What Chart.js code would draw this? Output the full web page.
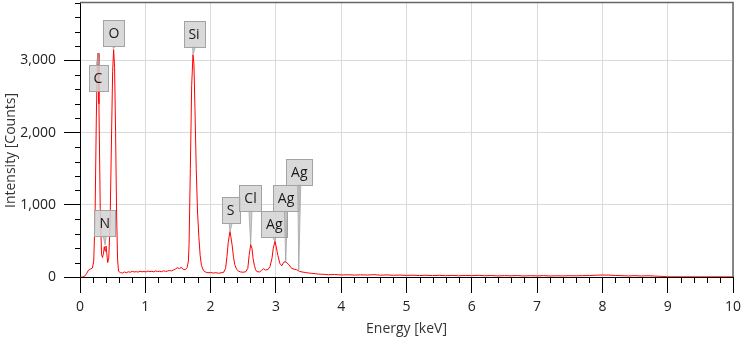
<!DOCTYPE html>
<html>
<head>
<meta charset="utf-8">
<script src="https://cdn.jsdelivr.net/npm/chart.js@4.4.1/dist/chart.umd.min.js"></script>
<style>
  html, body { margin: 0; padding: 0; background: #fff; }
  #wrap { width: 744px; height: 338px; }
</style>
</head>
<body>
<div id="wrap"><canvas id="spectrumCanvas" width="744" height="338"></canvas></div>
<script>
// spectrum (keV, counts)
const energies = [
  0.00, 0.04, 0.07, 0.10, 0.13, 0.16, 0.19, 0.21, 0.23, 0.25, 0.265, 0.277, 0.29, 0.31, 0.33,
  0.345, 0.36, 0.372, 0.385, 0.398, 0.41, 0.424, 0.44, 0.46, 0.48, 0.50, 0.515, 0.53, 0.545, 0.56,
  0.575, 0.59, 0.62, 0.65, 0.68, 0.71, 0.74, 0.77, 0.80, 0.83, 0.86, 0.89, 0.92, 0.95, 0.98,
  1.01, 1.04, 1.07, 1.10, 1.13, 1.16, 1.19, 1.22, 1.25, 1.28, 1.31, 1.34, 1.37, 1.40, 1.43,
  1.46, 1.49, 1.52, 1.55, 1.58, 1.61, 1.64, 1.66, 1.67, 1.69, 1.71, 1.73, 1.745, 1.76, 1.78,
  1.80, 1.82, 1.84, 1.86, 1.89, 1.92, 1.96, 2.00, 2.04, 2.08, 2.12, 2.16, 2.20, 2.23, 2.25,
  2.27, 2.297, 2.31, 2.33, 2.35, 2.37, 2.40, 2.43, 2.46, 2.50, 2.54, 2.57, 2.59, 2.614, 2.635,
  2.65, 2.67, 2.69, 2.71, 2.75, 2.78, 2.81, 2.84, 2.88, 2.91, 2.94, 2.96, 2.986, 3.00, 3.03,
  3.06, 3.09, 3.12, 3.145, 3.17, 3.20, 3.24, 3.28, 3.32, 3.36, 3.40, 3.45, 3.50, 3.55, 3.60,
  3.65, 3.70, 3.75, 3.80, 3.90, 4.00, 4.10, 4.20, 4.30, 4.40, 4.50, 4.60, 4.70, 4.80, 4.90,
  5.00, 5.10, 5.20, 5.30, 5.40, 5.50, 5.60, 5.70, 5.80, 5.90, 6.00, 6.10, 6.20, 6.30, 6.40,
  6.50, 6.60, 6.70, 6.80, 6.90, 7.00, 7.10, 7.20, 7.30, 7.40, 7.50, 7.60, 7.70, 7.80, 7.90,
  8.00, 8.10, 8.20, 8.30, 8.40, 8.50, 8.60, 8.70, 8.80, 8.90, 9.00, 9.50, 10.00
];
const counts = [
  0, 0, 10, 45, 95, 110, 125, 220, 800, 2200, 2950, 3100, 2400, 950, 310,
  270, 330, 420, 360, 430, 330, 200, 260, 700, 1800, 2850, 3150, 2900, 2000, 900,
  250, 80, 60, 55, 70, 60, 72, 66, 78, 70, 74, 68, 80, 72, 76,
  70, 82, 75, 79, 71, 84, 76, 80, 73, 86, 78, 82, 90, 84, 96,
  110, 128, 118, 132, 108, 100, 130, 220, 450, 1500, 2650, 3080, 2950, 2350, 1500,
  900, 560, 300, 160, 90, 70, 58, 62, 55, 60, 52, 58, 66, 120, 280,
  480, 630, 560, 440, 280, 170, 105, 80, 70, 66, 74, 120, 300, 450, 390,
  260, 160, 100, 74, 70, 90, 115, 96, 105, 145, 260, 400, 495, 440, 300,
  190, 155, 205, 215, 195, 170, 120, 108, 100, 78, 70, 62, 56, 50, 46,
  40, 38, 36, 31, 34, 28, 31, 26, 30, 27, 32, 25, 29, 24, 27,
  22, 25, 20, 24, 19, 23, 18, 22, 17, 21, 18, 23, 17, 20, 15,
  19, 16, 20, 14, 18, 15, 19, 14, 17, 15, 18, 16, 19, 20, 25,
  27, 26, 21, 18, 15, 18, 14, 17, 13, 9, 3, 2, 2
];

// identified peaks
const peakElements = ['C', 'O', 'N', 'Si', 'S', 'Cl', 'Ag', 'Ag', 'Ag'];
const peakEnergies = [0.277, 0.515, 0.385, 1.73, 2.297, 2.614, 2.986, 3.15, 3.35];
const peakCounts = [3100, 3165, 445, 3085, 630, 450, 490, 195, 95];

// tick labels and tick steps
const xTickValues = [0, 1, 2, 3, 4, 5, 6, 7, 8, 9, 10];
const yTickValues = [0, 1000, 2000, 3000];
const xMinorStep = 0.2;
const yMinorStep = 200;

const FONT = '"Open Sans", sans-serif';
const isMajor = (list, v) => list.some(t => Math.abs(t - v) < 1e-6);

function stepTicks(scale, step, max) {
  const ticks = [];
  for (let i = 0; i * step <= max + 1e-9; i++) ticks.push({ value: i * step });
  scale.ticks = ticks;
}

const frameAndTicks = {
  id: 'frameAndTicks',
  afterDraw(chart) {
    const { ctx, chartArea: a, scales: { x, y } } = chart;
    ctx.save();
    ctx.strokeStyle = '#000';
    ctx.lineWidth = 1;
    ctx.beginPath();
    x.ticks.forEach(t => {
      if (isMajor(xTickValues, t.value)) return;
      const px = Math.round(x.getPixelForValue(t.value)) + 0.5;
      ctx.moveTo(px, a.bottom);
      ctx.lineTo(px, a.bottom + 6);
    });
    y.ticks.forEach(t => {
      if (isMajor(yTickValues, t.value)) return;
      const py = Math.round(y.getPixelForValue(t.value)) + 0.5;
      ctx.moveTo(a.left - 5, py);
      ctx.lineTo(a.left, py);
    });
    ctx.stroke();
    ctx.strokeStyle = '#666';
    ctx.lineWidth = 1.5;
    ctx.beginPath();
    ctx.moveTo(a.left, a.top + 0.5);
    ctx.lineTo(a.right, a.top + 0.5);
    ctx.lineTo(a.right, a.bottom);
    ctx.stroke();

    // y axis title, sits a little below the middle of the plot
    ctx.font = '14px ' + FONT;
    ctx.fillStyle = '#333';
    ctx.textAlign = 'center';
    ctx.textBaseline = 'middle';
    ctx.translate(11, (a.top + a.bottom) / 2 + 11);
    ctx.rotate(-Math.PI / 2);
    ctx.fillText('Intensity [Counts]', 0, 0);
    ctx.restore();
  }
};

const peakLabels = {
  id: 'peakLabels',
  afterDatasetsDraw(chart, args, opts) {
    const { ctx, scales: { x, y } } = chart;
    ctx.save();
    ctx.font = '14px ' + FONT;
    ctx.textAlign = 'center';
    ctx.textBaseline = 'middle';
    peakElements.forEach((el, i) => {
      const box = opts.boxes[i];
      const cx = x.getPixelForValue(box.e);
      const cy = y.getPixelForValue(box.c);
      const w = Math.round(ctx.measureText(el).width + 10);
      const h = 26;
      const tx = x.getPixelForValue(peakEnergies[i]);
      const ty = y.getPixelForValue(peakCounts[i]);
      const baseY = ty > cy ? cy + h / 2 : cy - h / 2;
      // pointer
      ctx.fillStyle = 'rgba(190,190,190,0.7)';
      ctx.strokeStyle = '#9a9a9a';
      ctx.lineWidth = 0.7;
      ctx.beginPath();
      ctx.moveTo(cx - 1.5, baseY);
      ctx.lineTo(tx, ty);
      ctx.lineTo(cx + 1.5, baseY);
      ctx.closePath();
      ctx.fill();
      ctx.stroke();
      // box
      ctx.fillStyle = 'rgba(210,210,210,0.85)';
      ctx.strokeStyle = '#a3a3a3';
      ctx.lineWidth = 1;
      const bx = Math.round(cx - w / 2) + 0.5;
      const by = Math.round(cy - h / 2) + 0.5;
      ctx.fillRect(bx, by, w, h);
      ctx.strokeRect(bx, by, w, h);
      ctx.fillStyle = '#1a1a1a';
      ctx.fillText(el, cx, cy + 1);
    });
    ctx.restore();
  }
};

new Chart(document.getElementById('spectrumCanvas'), {
  type: 'line',
  data: {
    datasets: [{
      data: energies.map((e, i) => ({ x: e, y: counts[i] })),
      borderColor: '#ff0000',
      borderWidth: 1,
      pointRadius: 0,
      tension: 0,
      fill: false
    }]
  },
  options: {
    responsive: false,
    animation: false,
    devicePixelRatio: 1,
    layout: { padding: { top: 2, right: 11, left: 0, bottom: 0 } },
    plugins: {
      legend: { display: false },
      tooltip: { enabled: false },
      peakLabels: {
        boxes: [
          { e: 0.276, c: 2763 }, { e: 0.52, c: 3374 }, { e: 0.378, c: 749 },
          { e: 1.746, c: 3370 }, { e: 2.307, c: 925 }, { e: 2.611, c: 1096 },
          { e: 2.976, c: 732 }, { e: 3.155, c: 1096 }, { e: 3.358, c: 1459 }
        ]
      }
    },
    scales: {
      x: {
        type: 'linear',
        min: 0,
        max: 10,
        afterBuildTicks: s => stepTicks(s, xMinorStep, 10),
        afterFit: s => { s.height = 61; s.paddingLeft = 0; s.paddingRight = 0; },
        ticks: {
          autoSkip: false,
          maxRotation: 0,
          padding: 6,
          color: '#222',
          font: { family: FONT, size: 14 },
          callback: v => isMajor(xTickValues, v) ? String(Math.round(v)) : ''
        },
        grid: {
          color: c => isMajor(xTickValues, c.tick.value) ? '#dadada' : 'rgba(0,0,0,0)',
          tickColor: c => isMajor(xTickValues, c.tick.value) ? '#000' : 'rgba(0,0,0,0)',
          tickLength: 16
        },
        border: { color: '#000', width: 1 },
        title: {
          display: true,
          text: 'Energy [keV]',
          color: '#333',
          font: { family: FONT, size: 14 },
          padding: { top: 0, bottom: 1 }
        }
      },
      y: {
        min: 0,
        max: 3810,
        afterBuildTicks: s => stepTicks(s, yMinorStep, 3810),
        afterFit: s => { s.width = 80; s.paddingTop = 0; s.paddingBottom = 0; },
        ticks: {
          autoSkip: false,
          padding: 8,
          color: '#222',
          font: { family: FONT, size: 14 },
          callback: v => isMajor(yTickValues, v) ? Math.round(v).toLocaleString('en-US') : ''
        },
        grid: {
          color: c => isMajor(yTickValues, c.tick.value) ? '#dadada' : 'rgba(0,0,0,0)',
          tickColor: c => isMajor(yTickValues, c.tick.value) ? '#000' : 'rgba(0,0,0,0)',
          tickLength: 16
        },
        border: { color: '#000', width: 1 },
        title: { display: false }
      }
    }
  },
  plugins: [frameAndTicks, peakLabels]
});
</script>
</body>
</html>
